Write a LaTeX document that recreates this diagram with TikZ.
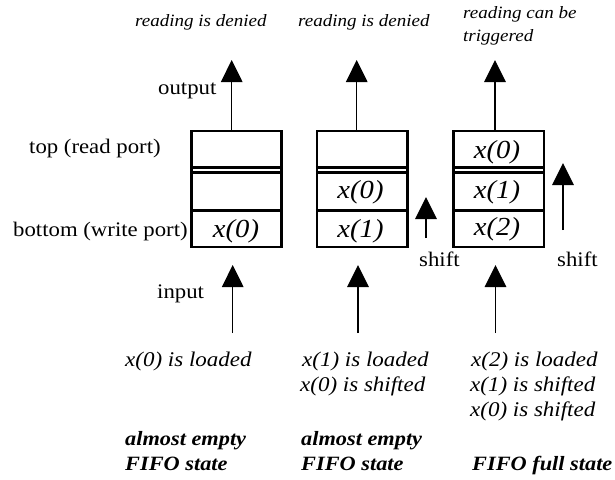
\documentclass[tikz,border=0pt]{standalone}
\usepackage{fontspec}
\setmainfont[FakeStretch=1.1]{Liberation Serif}
\usetikzlibrary{arrows.meta}

\begin{document}
\begin{tikzpicture}[x=1pt,y=-1pt,
  fifo/.style={draw,line width=2.5pt,minimum width=90.4pt,minimum height=116pt,inner sep=0pt},
  sep/.style={line width=2.5pt},
  flow/.style={line width=1.3pt,-{Triangle[length=22pt,width=21.5pt]}},
  lbl/.style={anchor=base west,inner sep=0pt,font=\fontsize{20.7}{24}\selectfont},
  note/.style={anchor=base west,inner sep=0pt,font=\fontsize{17.3}{21}\selectfont\itshape},
  event/.style={anchor=base west,inner sep=0pt,font=\fontsize{20.9}{25}\selectfont\itshape},
  state/.style={anchor=base west,inner sep=0pt,font=\fontsize{20.3}{24}\selectfont\bfseries\itshape},
  cell/.style={inner sep=0pt,font=\fontsize{26}{30}\selectfont\itshape},
]
\useasboundingbox (0,0) rectangle (615,479);

% three FIFO snapshots: top cell, double rule, middle cell, bottom cell
\foreach \n/\cx in {f1/236.5, f2/362.2, f3/498.8}{
  \node[fifo] (\n) at (\cx,189) {};
  \draw[sep] (\n.west |- 0,167.3) -- (\n.east |- 0,167.3);
  \draw[sep] (\n.west |- 0,172.3) -- (\n.east |- 0,172.3);
  \draw[sep] (\n.west |- 0,210.5) -- (\n.east |- 0,210.5);
}

% cell contents
\node[cell] (c10) at (236,231) {x(0)};
\node[cell] (c20) at (360.5,192.5) {x(0)};
\node[cell] (c21) at (360.5,231) {x(1)};
\node[cell] (c30) at (497,152) {x(0)};
\node[cell] (c31) at (497,192.5) {x(1)};
\node[cell] (c32) at (497,229.5) {x(2)};

% port labels
\node[lbl] (outl) at (158,94.3) {output};
\node[lbl] (topl) at (29,153) {top (read port)};
\node[lbl] (botl) at (13,236.7) {bottom (write port)};
\node[lbl] (inl) at (157,298) {input};
\node[lbl] (sh1) at (419,266) {shift};
\node[lbl] (sh2) at (557,266) {shift};

% read side
\coordinate (o1) at (231.7,60);
\coordinate (o2) at (356.7,60);
\coordinate (o3) at (495,60);
\draw[flow] (o1 |- f1.north) -- (o1);
\draw[flow] (o2 |- f2.north) -- (o2);
\draw[flow] (o3 |- f3.north) -- (o3);

% write side
\coordinate (i1b) at (232.7,333); \coordinate (i1t) at (232.7,265);
\coordinate (i2b) at (358,333);   \coordinate (i2t) at (358,265);
\coordinate (i3b) at (495.5,333); \coordinate (i3t) at (495.5,265);
\draw[flow] (i1b) -- (i1t);
\draw[flow] (i2b) -- (i2t);
\draw[flow] (i3b) -- (i3t);

% shift direction
\coordinate (s1b) at (426,238); \coordinate (s1t) at (426,197);
\coordinate (s2b) at (563,230); \coordinate (s2t) at (563,163);
\draw[flow] (s1b) -- (s1t);
\draw[flow] (s2b) -- (s2t);

% read status
\node[note] (r1) at (135,26.7) {reading is denied};
\node[note] (r2) at (298,26.7) {reading is denied};
\node[note] (r3a) at (463,18.3) {reading can be};
\node[note] (r3b) at (463,41.7) {triggered};

% write events
\node[event] (e1) at (125,366) {x(0) is loaded};
\node[event] (e2a) at (302,366) {x(1) is loaded};
\node[event] (e2b) at (300,391) {x(0) is shifted};
\node[event] (e3a) at (471,366) {x(2) is loaded};
\node[event] (e3b) at (470,391) {x(1) is shifted};
\node[event] (e3c) at (470,416) {x(0) is shifted};

% resulting states
\node[state] (st1a) at (125,445) {almost empty};
\node[state] (st1b) at (125,470) {FIFO state};
\node[state] (st2a) at (301,445) {almost empty};
\node[state] (st2b) at (301,470) {FIFO state};
\node[state] (st3) at (472,470) {FIFO full state};
\end{tikzpicture}
\end{document}
